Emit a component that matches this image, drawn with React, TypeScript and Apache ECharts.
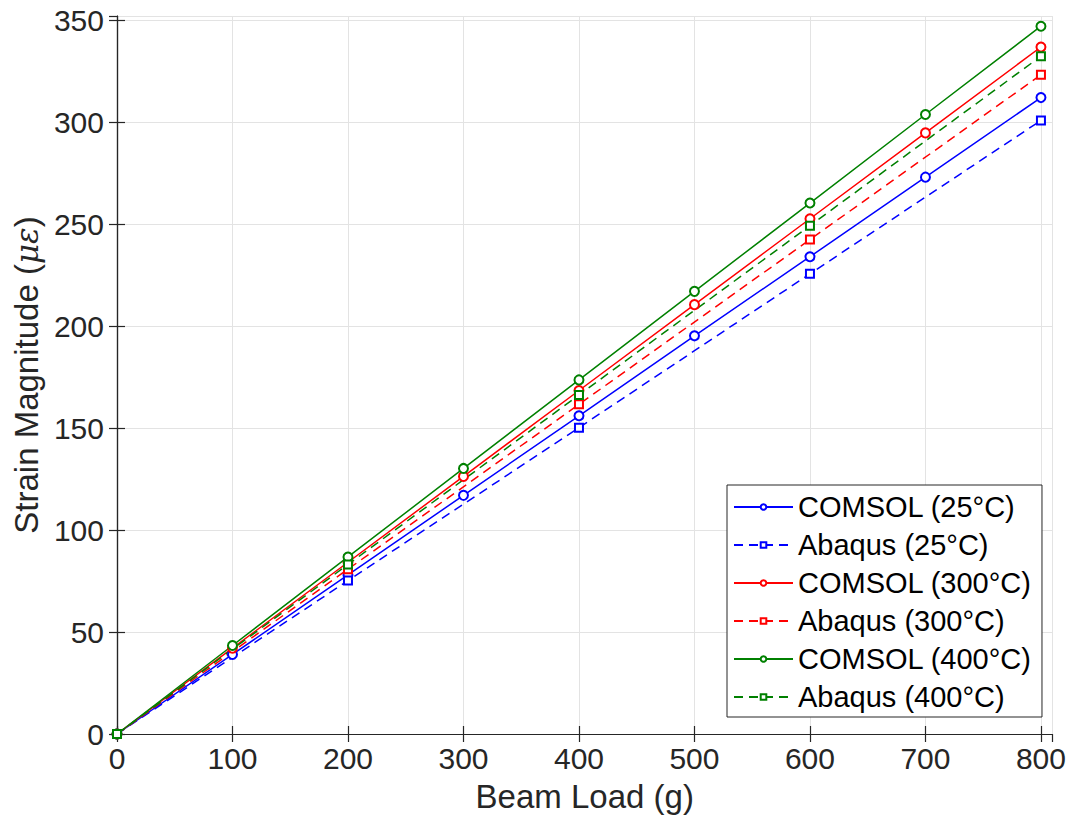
import React, { useEffect, useRef } from "react";
import * as echarts from "echarts";

const loads = [0, 100, 200, 300, 400, 500, 600, 700, 800];
const abaqusLoads = [0, 200, 400, 600, 800];

const comsol25 = [0, 39, 78, 117, 156, 195.2, 234, 273, 312];
const abaqus25 = [0, 75.2, 150.2, 225.6, 300.8];
const comsol300 = [0, 42.1, 84.2, 126.3, 168.4, 210.5, 252.6, 294.7, 336.8];
const abaqus300 = [0, 80.8, 161.6, 242.4, 323.2];
const comsol400 = [0, 43.4, 86.8, 130.2, 173.6, 217, 260.3, 303.7, 347];
const abaqus400 = [0, 83.1, 166.2, 249.2, 332.3];

const names = [
  "COMSOL (25°C)",
  "Abaqus (25°C)",
  "COMSOL (300°C)",
  "Abaqus (300°C)",
  "COMSOL (400°C)",
  "Abaqus (400°C)",
];

const xTicks = [0, 100, 200, 300, 400, 500, 600, 700, 800];
const yTicks = [0, 50, 100, 150, 200, 250, 300, 350];

const BLUE = "#0000ff";
const RED = "#ff0000";
const GREEN = "#008000";
const AX = "#262626";
const FONT = "'Liberation Sans', Arial, Helvetica, sans-serif";

function pairs(xs: number[], ys: number[]) {
  return xs.map((x, i) => [x, ys[i]]);
}

export default function App() {
  const ref = useRef<HTMLDivElement>(null);
  useEffect(() => {
    if (!ref.current) return;
    const chart = echarts.init(ref.current, null, { renderer: "svg" });
    const mk = (
      name: string,
      xs: number[],
      ys: number[],
      color: string,
      dashed: boolean
    ) => ({
      name,
      type: "line",
      data: pairs(xs, ys),
      symbol: dashed ? "emptyRect" : "emptyCircle",
      symbolSize: dashed ? 8 : 9,
      showAllSymbol: true,
      lineStyle: { color, width: 1.5, type: dashed ? [9, 6] : "solid" },
      itemStyle: { color, borderColor: color, borderWidth: 1.3 },
      emphasis: { disabled: true },
    });
    const labelFmt = (ticks: number[]) => (v: number) =>
      ticks.includes(v) ? String(v) : "";
    const baseAxis = {
      type: "value",
      axisLine: { show: true, lineStyle: { color: AX, width: 1.2 } },
      axisTick: { show: true, inside: true, length: 8, lineStyle: { color: AX, width: 1.2 } },
    };
    chart.setOption({
      animation: false,
      backgroundColor: "#ffffff",
      grid: { left: 117, right: 20.5, top: 16, bottom: 97, containLabel: false },
      xAxis: [
        {
          ...baseAxis,
          min: 0,
          max: 810,
          interval: 100,
          position: "bottom",
          name: "Beam Load (g)",
          nameLocation: "middle",
          nameGap: 46,
          nameTextStyle: { fontSize: 33, color: AX, fontFamily: FONT },
          axisLabel: {
            margin: 9,
            fontSize: 30,
            color: AX,
            fontFamily: FONT,
            formatter: labelFmt(xTicks),
            showMaxLabel: false,
          },
          splitLine: { show: true, lineStyle: { color: "#e3e3e3", width: 1 } },
        },
        {
          ...baseAxis,
          min: 0,
          max: 810,
          interval: 100,
          position: "top",
          axisLabel: { show: false },
          splitLine: { show: false },
        },
      ],
      yAxis: [
        {
          ...baseAxis,
          min: 0,
          max: 352,
          interval: 50,
          position: "left",
          name: "Strain Magnitude ({i|με})",
          nameLocation: "middle",
          nameGap: 74,
          nameRotate: 90,
          nameTextStyle: {
            fontSize: 33,
            color: AX,
            fontFamily: FONT,
            rich: {
              i: { fontSize: 31, fontStyle: "italic", fontFamily: "'DejaVu Serif', serif", color: AX },
            },
          },
          axisLabel: {
            margin: 13,
            fontSize: 30,
            color: AX,
            fontFamily: FONT,
            formatter: labelFmt(yTicks),
            showMaxLabel: false,
          },
          splitLine: { show: true, lineStyle: { color: "#e3e3e3", width: 1 } },
        },
        {
          ...baseAxis,
          min: 0,
          max: 352,
          interval: 50,
          position: "right",
          axisLabel: { show: false },
          splitLine: { show: false },
        },
      ],
      legend: {
        orient: "vertical",
        left: 727,
        top: 485,
        padding: [7, 10, 5, 6],
        itemWidth: 59,
        itemHeight: 7,
        itemGap: 8,
        backgroundColor: "#ffffff",
        borderColor: AX,
        borderWidth: 1,
        borderRadius: 0,
        selectedMode: false,
        data: names,
        textStyle: { fontSize: 29, lineHeight: 30, color: "#000000", fontFamily: FONT },
      },
      series: [
        mk(names[0], loads, comsol25, BLUE, false),
        mk(names[1], abaqusLoads, abaqus25, BLUE, true),
        mk(names[2], loads, comsol300, RED, false),
        mk(names[3], abaqusLoads, abaqus300, RED, true),
        mk(names[4], loads, comsol400, GREEN, false),
        mk(names[5], abaqusLoads, abaqus400, GREEN, true),
      ],
    });
    return () => chart.dispose();
  }, []);
  return (
    <div
      ref={ref}
      style={{ position: "fixed", left: 0, top: 0, width: 1073, height: 831 }}
    />
  );
}
